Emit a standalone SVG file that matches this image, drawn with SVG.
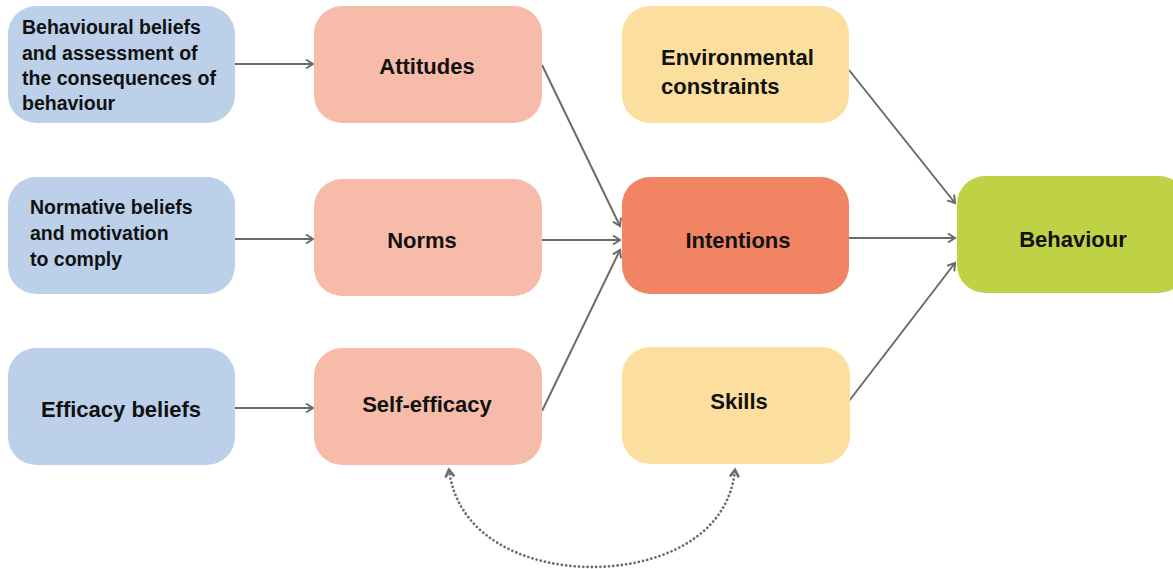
<svg xmlns="http://www.w3.org/2000/svg" width="1173" height="569" viewBox="0 0 1173 569">
<style>
.n rect{stroke:none}
.blue{fill:#BCD0EA}
.pink{fill:#F7BBAA}
.int{fill:#F08463}
.yel{fill:#FCDF9E}
.grn{fill:#BFD246}
text{font-family:"Liberation Sans",Arial,sans-serif;font-weight:bold;fill:#111}
.c{text-anchor:middle;font-size:22px}
.s{font-size:19.5px}
.e{stroke:#6b6b6b;stroke-width:2;fill:none}
.d{stroke:#6b6b6b;stroke-width:2.8;fill:none;stroke-dasharray:0 4.3;stroke-linecap:round}
</style>
<defs>
<marker id="ah" markerWidth="12" markerHeight="12" refX="9" refY="6" orient="auto" markerUnits="userSpaceOnUse">
<path d="M2,1.5 L9,6 L2,10.5" fill="none" stroke="#6b6b6b" stroke-width="2"/>
</marker>
<marker id="ahs" markerWidth="12" markerHeight="12" refX="9" refY="6" orient="auto-start-reverse" markerUnits="userSpaceOnUse">
<path d="M2,1.5 L9,6 L2,10.5" fill="none" stroke="#6b6b6b" stroke-width="2.6"/>
</marker>
</defs>
<g id="connectors">
<line class="e" x1="235" y1="64" x2="313" y2="64" marker-end="url(#ah)"/>
<line class="e" x1="235" y1="239" x2="313" y2="239" marker-end="url(#ah)"/>
<line class="e" x1="235" y1="408" x2="313" y2="408" marker-end="url(#ah)"/>
<line class="e" x1="542" y1="65" x2="620" y2="226" marker-end="url(#ah)"/>
<line class="e" x1="542" y1="240" x2="620" y2="240" marker-end="url(#ah)"/>
<line class="e" x1="542" y1="411" x2="620" y2="250" marker-end="url(#ah)"/>
<line class="e" x1="849" y1="70" x2="955" y2="203" marker-end="url(#ah)"/>
<line class="e" x1="849" y1="238" x2="955" y2="238" marker-end="url(#ah)"/>
<line class="e" x1="849" y1="401" x2="955" y2="263" marker-end="url(#ah)"/>
<path class="d" d="M449,470 C458,540 530,567 592,567 C655,567 728,540 735,470" marker-start="url(#ahs)" marker-end="url(#ahs)"/>
</g>
<g id="n-behavioural-beliefs" class="n">
<rect class="blue" x="8" y="6" width="227" height="117" rx="28"/>
<text class="s" x="22" y="34">Behavioural beliefs</text>
<text class="s" x="22" y="59.5">and assessment of</text>
<text class="s" x="22" y="85">the consequences of</text>
<text class="s" x="22" y="110">behaviour</text>
</g>
<g id="n-normative-beliefs" class="n">
<rect class="blue" x="8" y="177" width="227" height="117" rx="28"/>
<text class="s" x="30" y="214">Normative beliefs</text>
<text class="s" x="30" y="240">and motivation</text>
<text class="s" x="30" y="266">to comply</text>
</g>
<g id="n-efficacy-beliefs" class="n">
<rect class="blue" x="8" y="348" width="227" height="117" rx="28"/>
<text class="c" x="121" y="417">Efficacy beliefs</text>
</g>
<g id="n-attitudes" class="n">
<rect class="pink" x="314" y="6" width="228" height="117" rx="28"/>
<text class="c" x="427" y="74">Attitudes</text>
</g>
<g id="n-norms" class="n">
<rect class="pink" x="314" y="179" width="228" height="117" rx="28"/>
<text class="c" x="422" y="248">Norms</text>
</g>
<g id="n-self-efficacy" class="n">
<rect class="pink" x="314" y="348" width="228" height="117" rx="28"/>
<text class="c" x="427" y="412">Self-efficacy</text>
</g>
<g id="n-environmental-constraints" class="n">
<rect class="yel" x="622" y="6" width="227" height="117" rx="28"/>
<text x="661" y="65" style="font-size:22px">Environmental</text>
<text x="661" y="94" style="font-size:22px">constraints</text>
</g>
<g id="n-intentions" class="n">
<rect class="int" x="622" y="177" width="227" height="117" rx="28"/>
<text class="c" x="738" y="248">Intentions</text>
</g>
<g id="n-skills" class="n">
<rect class="yel" x="622" y="347" width="228" height="117" rx="28"/>
<text class="c" x="739" y="409">Skills</text>
</g>
<g id="n-behaviour" class="n">
<rect class="grn" x="957" y="176" width="230" height="117" rx="28"/>
<text class="c" x="1073" y="247">Behaviour</text>
</g>
</svg>
